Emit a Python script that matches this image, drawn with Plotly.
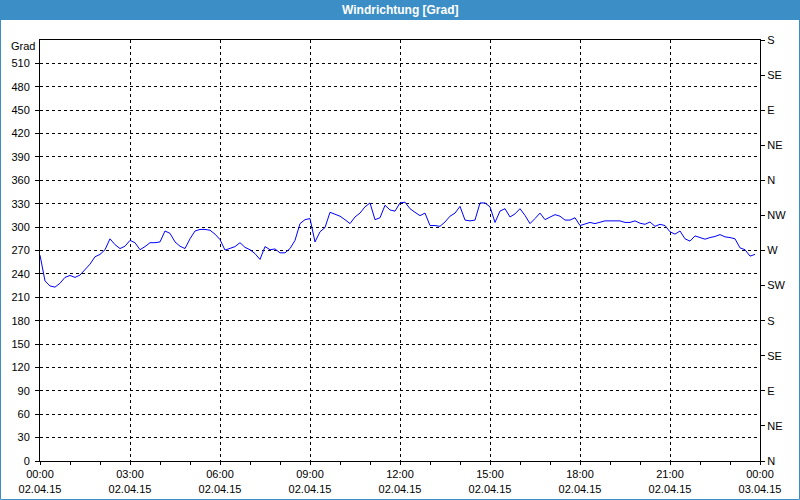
import plotly.graph_objects as go
import pandas as pd

# Wind direction (degrees), 10-minute samples starting 02.04.15 00:00
direction = [
    264, 231, 224.5, 223, 228, 235.5, 238, 235.5, 238.5, 245,
    252.5, 262, 265, 271, 285, 277.5, 272.5, 275.5, 283, 280,
    271, 275, 280, 280, 281, 295, 292, 281, 275.5, 272.5,
    285, 295, 297, 297, 296, 291, 284, 270.5, 272.5, 275,
    280, 274, 271, 266, 258.5, 275, 271, 272, 267, 267,
    272.5, 283, 304.5, 309.5, 311, 281, 294, 299.5, 319, 317,
    314, 309.5, 304.5, 313, 318, 326, 331, 309.5, 312, 328,
    322, 320.5, 331, 332, 323.6, 319, 314.7, 318, 302, 302,
    301, 306.6, 314, 318, 326.6, 309, 308, 309, 331, 331,
    326, 306, 320.6, 323.6, 313, 317, 323.6, 315, 304.5, 311,
    318, 309.6, 313, 316, 314, 309, 309, 312, 302, 304.5,
    306, 304.5, 306.6, 308, 308, 308, 308, 306, 306, 308,
    305, 303.6, 306.6, 301, 303.6, 302, 294, 291, 295, 285,
    282, 288.7, 286.6, 284.5, 286.6, 288, 290.4, 287.5, 286.6, 285,
    273.4, 271, 262.8, 265,
]
times = pd.date_range("2015-04-02 00:00", periods=len(direction), freq="10min")

x_tickvals = pd.date_range("2015-04-02 00:00", "2015-04-03 00:00", freq="3h")
x_ticktext = ["00:00<br>02.04.15", "03:00<br>02.04.15", "06:00<br>02.04.15",
              "09:00<br>02.04.15", "12:00<br>02.04.15", "15:00<br>02.04.15",
              "18:00<br>02.04.15", "21:00<br>02.04.15", "00:00<br>03.04.15"]

y_left_ticks = list(range(0, 511, 30))
y_right_ticks = list(range(0, 541, 45))
y_right_text = ["N", "NE", "E", "SE", "S", "SW", "W", "NW", "N", "NE", "E", "SE", "S"]

font = "Liberation Sans, Arial, sans-serif"
blue = "rgb(60,143,198)"

fig = go.Figure()
fig.add_trace(go.Scatter(x=times, y=direction, mode="lines",
                         line=dict(color="rgb(0,0,255)", width=1),
                         hoverinfo="x+y", showlegend=False))
fig.add_trace(go.Scatter(x=times, y=direction, mode="lines", yaxis="y2",
                         line=dict(color="rgba(0,0,0,0)", width=0),
                         hoverinfo="skip", showlegend=False))

L, R, T, B = 40, 40, 40, 39
W, H = 800, 500
pw, ph = W - L - R, H - T - B

def px(xp):
    return (xp - L) / pw

def py(yp):
    return (H - B - yp) / ph

fig.update_layout(
    width=W, height=H,
    margin=dict(l=L, r=R, t=T, b=B, pad=0, autoexpand=False),
    paper_bgcolor="white", plot_bgcolor="white",
    font=dict(family=font, size=11, color="black"),
    xaxis=dict(
        type="date",
        range=["2015-04-02 00:00", "2015-04-03 00:00"],
        tickvals=list(x_tickvals), ticktext=x_ticktext,
        ticks="outside", ticklen=3, tickcolor="black",
        showline=True, linecolor="black", linewidth=1, mirror=True,
        showgrid=True, gridcolor="black", gridwidth=1, griddash="3px,3px",
        minor=dict(dtick=3600000, ticks="outside", ticklen=3, tickcolor="black", showgrid=False),
        zeroline=False, fixedrange=True, automargin=False,
    ),
    yaxis=dict(
        range=[0, 540], tickvals=y_left_ticks,
        ticks="outside", ticklen=4, tickcolor="black", ticklabelstandoff=3,
        showline=True, linecolor="black", linewidth=1,
        showgrid=True, gridcolor="black", gridwidth=1, griddash="3px,3px",
        zeroline=False, fixedrange=True, automargin=False,
    ),
    yaxis2=dict(
        range=[0, 540], overlaying="y", side="right",
        tickvals=y_right_ticks, ticktext=y_right_text,
        ticks="outside", ticklen=4, tickcolor="black",
        showline=True, linecolor="black", linewidth=1,
        showgrid=False, zeroline=False, fixedrange=True, automargin=False,
    ),
    shapes=[
        dict(type="rect", xref="paper", yref="paper",
             x0=px(0), x1=px(W), y0=py(20), y1=py(0),
             fillcolor=blue, line=dict(width=0), layer="above"),
        dict(type="rect", xref="paper", yref="paper",
             x0=px(0.5), x1=px(W - 0.5), y0=py(H - 0.5), y1=py(0.5),
             fillcolor="rgba(0,0,0,0)", line=dict(color=blue, width=1), layer="above"),
    ],
    annotations=[
        dict(text="<b>Windrichtung [Grad]</b>", xref="paper", yref="paper",
             x=px(W / 2), y=py(10), xanchor="center", yanchor="middle",
             showarrow=False, font=dict(family=font, size=12, color="white")),
        dict(text="Grad", xref="paper", yref="paper",
             x=px(37), y=py(46), xanchor="right", yanchor="middle",
             showarrow=False, font=dict(family=font, size=11, color="black")),
    ],
)

fig.write_html("out.html", config={"displayModeBar": False},
               post_script="document.body.style.margin='0';document.body.style.padding='0';")
